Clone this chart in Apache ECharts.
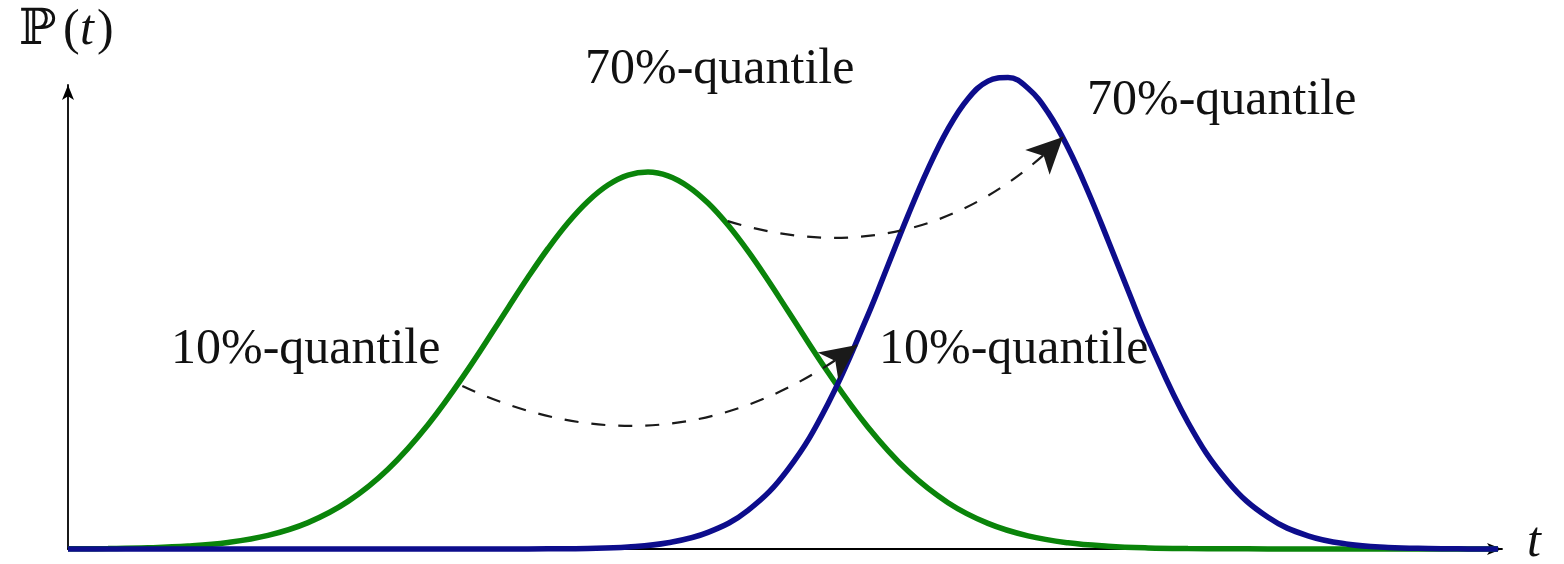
<!DOCTYPE html>
<html>
<head>
<meta charset="utf-8">
<script src="https://cdn.jsdelivr.net/npm/echarts@6/dist/echarts.min.js"></script>
<style>html,body{margin:0;padding:0;background:#fff;}#c{width:1564px;height:564px;}</style>
</head>
<body>
<div id="c"></div>
<script>
// t positions and probability values
const greenT = [0,0.4,0.8,1.2,1.6,2.0,2.4,2.8,3.2,3.6,4.0,4.4,4.6,4.8,5.0,5.2,5.4,5.6,5.8,6.0,6.2,6.4,6.6,6.8,7.0,7.2,7.6,8.0,8.4,8.8,9.2,9.6,10.0,10.4,10.8,11.2,11.6,12.0,12.4,13.0,14.3];
const greenP = [0.002,0.005,0.012,0.029,0.065,0.136,0.264,0.476,0.798,1.243,1.796,2.411,2.717,3.005,3.263,3.478,3.640,3.739,3.770,3.732,3.626,3.459,3.239,2.978,2.687,2.380,1.767,1.218,0.779,0.463,0.256,0.131,0.062,0.028,0.011,0.004,0.002,0.001,0,0,0];
const blueT = [0,2.0,4.0,4.4,4.8,5.2,5.6,6.0,6.4,6.8,7.2,7.6,8.0,8.2,8.4,8.6,8.8,9.0,9.2,9.4,9.6,9.8,10.0,10.2,10.4,10.6,10.8,11.2,11.6,12.0,12.4,12.8,13.2,13.6,14.0,14.3];
const blueP = [0,0,0,0,0.002,0.006,0.021,0.063,0.166,0.387,0.797,1.453,2.341,2.838,3.336,3.801,4.201,4.503,4.679,4.715,4.608,4.366,4.012,3.575,3.088,2.588,2.102,1.265,0.673,0.317,0.132,0.048,0.016,0.005,0.001,0];
// quantile arrows: [from t, from P, to t, to P]
const arrow10 = [3.90, 1.65, 7.89, 2.04];
const arrow70 = [6.56, 3.29, 9.95, 4.12];
const labels = ['70%-quantile', '70%-quantile', '10%-quantile', '10%-quantile'];

const chart = echarts.init(document.getElementById('c'), null, {renderer: 'canvas'});
const pair = (xs, ys) => xs.map((x, i) => [x, ys[i]]);
// coords listed tip-first so the arrow symbol sits at the start
const arrowItem = a => ({coords: [[a[2], a[3]], [a[0], a[1]]]});
const serif = '"Liberation Serif", "Times New Roman", serif';
const txt = (text, x, y, size, extra) => Object.assign({
  type: 'text', x: x, y: y, z: 100,
  style: Object.assign({text: text, font: size + 'px ' + serif, fill: '#111', verticalAlign: 'middle', align: 'left'}, extra || {})
});

chart.setOption({
  animation: false,
  backgroundColor: '#ffffff',
  grid: {left: 68, right: 62, top: 85, bottom: 15},
  xAxis: {
    type: 'value', min: 0, max: 14.34,
    axisLine: {show: true, onZero: true, symbol: ['none', 'arrow'], symbolSize: [9, 15], lineStyle: {color: '#000', width: 1.8}},
    axisTick: {show: false}, axisLabel: {show: false}, splitLine: {show: false}
  },
  yAxis: {
    type: 'value', min: 0, max: 4.64,
    axisLine: {show: true, symbol: ['none', 'arrow'], symbolSize: [9, 15], lineStyle: {color: '#000', width: 1.8}},
    axisTick: {show: false}, axisLabel: {show: false}, splitLine: {show: false}
  },
  series: [
    {
      type: 'line', name: 'green', data: pair(greenT, greenP), symbol: 'none', smooth: 0.4, clip: false,
      lineStyle: {color: '#0a840a', width: 5.5}, z: 3
    },
    {
      type: 'line', name: 'blue', data: pair(blueT, blueP), symbol: 'none', smooth: 0.4, clip: false,
      lineStyle: {color: '#0d0d8c', width: 5.5}, z: 4
    },
    {
      type: 'lines', coordinateSystem: 'cartesian2d', silent: true, z: 5,
      symbol: ['arrow', 'none'],
      symbolSize: [[26, 36], 0],
      lineStyle: {color: '#1a1a1a', width: 2.2, type: [14, 13], curveness: 0.3, opacity: 1},
      data: [arrowItem(arrow10), arrowItem(arrow70)]
    }
  ],
  graphic: [
    {type: 'text', x: 19, y: 31, z: 100, style: {text: 'ℙ', font: '50px "DejaVu Serif", serif', fill: '#111', verticalAlign: 'middle'}},
    txt('(', 63, 31, 50),
    txt('t', 80, 31, 50, {font: 'italic 50px ' + serif}),
    txt(')', 97, 31, 50),
    txt('t', 1527, 543, 50, {font: 'italic 50px ' + serif}),
    txt(labels[0], 585, 70, 50),
    txt(labels[1], 1087, 101, 50),
    txt(labels[2], 171, 350, 50),
    txt(labels[3], 879, 350, 50)
  ]
});
</script>
</body>
</html>
